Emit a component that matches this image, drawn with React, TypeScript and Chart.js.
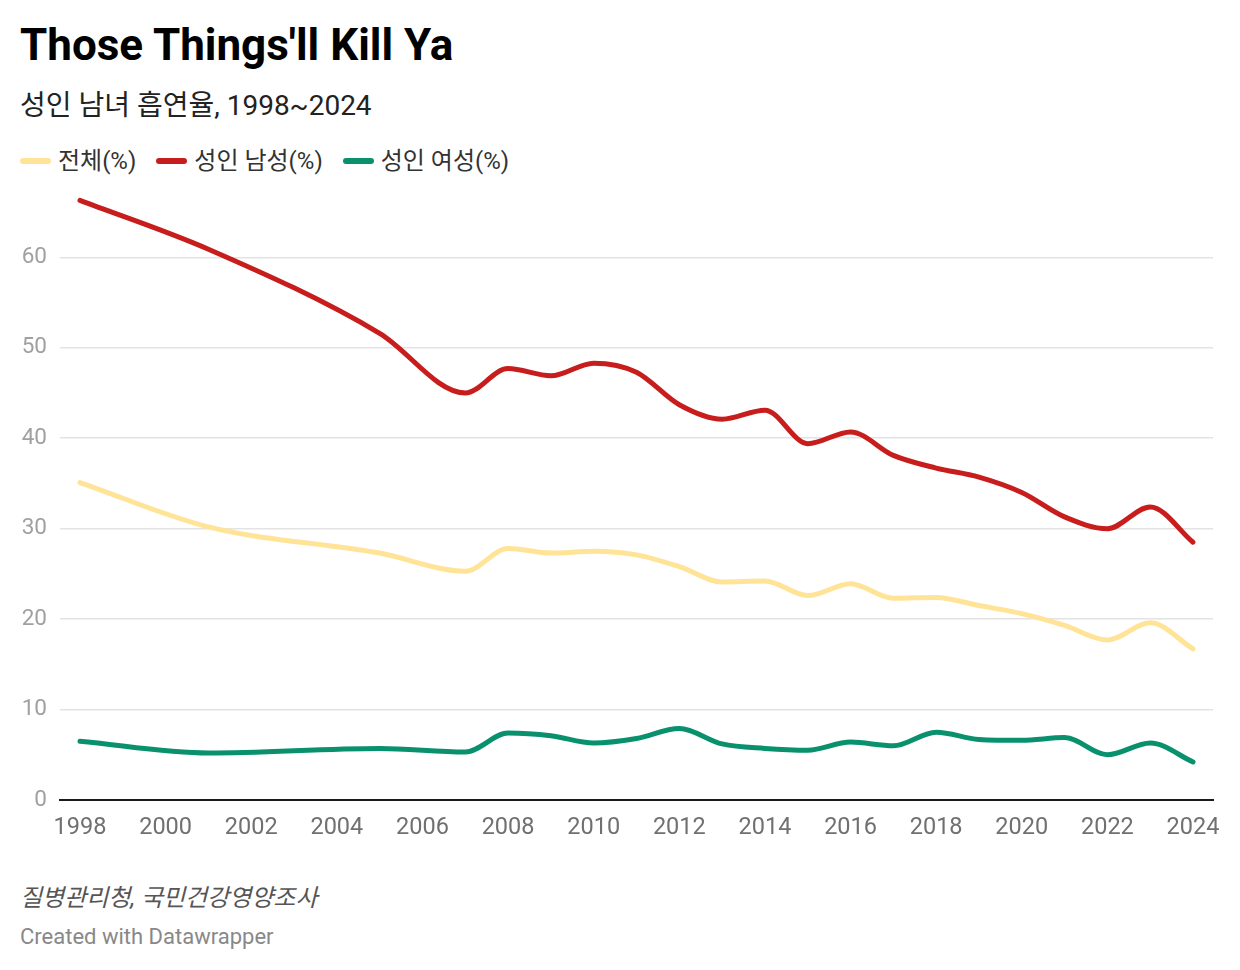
import React, { useEffect, useRef } from "react";
import { Chart, registerables } from "chart.js";

Chart.register(...registerables);

const years = [1998, 2001, 2005, 2007, 2008, 2009, 2010, 2011, 2012, 2013, 2014, 2015, 2016, 2017, 2018, 2019, 2020, 2021, 2022, 2023, 2024];
const totalRate = [35.1, 30.2, 27.3, 25.3, 27.8, 27.3, 27.5, 27.1, 25.8, 24.1, 24.2, 22.6, 23.9, 22.3, 22.4, 21.5, 20.6, 19.3, 17.7, 19.6, 16.7];
const maleRate = [66.3, 60.9, 51.6, 45.0, 47.7, 46.9, 48.3, 47.3, 43.7, 42.1, 43.1, 39.4, 40.7, 38.1, 36.7, 35.7, 34.0, 31.3, 30.0, 32.4, 28.5];
const femaleRate = [6.5, 5.2, 5.7, 5.3, 7.4, 7.1, 6.3, 6.8, 7.9, 6.2, 5.7, 5.5, 6.4, 6.0, 7.5, 6.7, 6.6, 6.9, 5.0, 6.3, 4.2];
const xTicks = [1998, 2000, 2002, 2004, 2006, 2008, 2010, 2012, 2014, 2016, 2018, 2020, 2022, 2024];
const yTicks = [0, 10, 20, 30, 40, 50, 60];

const seriesNames = ["전체(%)", "성인 남성(%)", "성인 여성(%)"];
const seriesColors = ["#ffe396", "#c71e1d", "#09916e"];

const FONT = "Roboto, 'Noto Sans CJK KR', sans-serif";

export default function App() {
  const ref = useRef<HTMLCanvasElement | null>(null);

  useEffect(() => {
    if (!ref.current) return;
    const mk = (vals: number[]) => years.map((y, i) => ({ x: y, y: vals[i] }));
    const all = [totalRate, maleRate, femaleRate];
    const chart = new Chart(ref.current, {
      type: "line",
      data: {
        datasets: all.map((vals, i) => ({
          label: seriesNames[i],
          data: mk(vals),
          borderColor: seriesColors[i],
          backgroundColor: seriesColors[i],
          borderWidth: 5,
          pointRadius: 0,
          pointHoverRadius: 0,
          cubicInterpolationMode: "monotone" as const,
          borderCapStyle: "round" as const,
          borderJoinStyle: "round" as const,
          fill: false,
        })),
      },
      options: {
        animation: false,
        responsive: false,
        maintainAspectRatio: false,
        layout: { padding: { top: 8, right: 27, left: 0, bottom: 0 } },
        plugins: { legend: { display: false }, tooltip: { enabled: false } },
        scales: {
          x: {
            type: "linear",
            min: 1998 - 0.467,
            max: 2024 + 0.467,
            afterBuildTicks: (s: any) => {
              s.ticks = xTicks.map((v) => ({ value: v }));
            },
            afterFit: (s: any) => {
              s.height = 46;
              s.paddingLeft = 0;
              s.paddingRight = 0;
            },
            grid: { display: false, drawTicks: false },
            border: { display: true, color: "#1a1a1a", width: 2 },
            ticks: {
              padding: 14,
              color: "#707070",
              font: { family: FONT, size: 23.5 },
              maxRotation: 0,
              autoSkip: false,
              callback: (v: any) => String(v),
            },
          },
          y: {
            type: "linear",
            min: 0,
            max: 67,
            afterBuildTicks: (s: any) => {
              s.ticks = yTicks.map((v) => ({ value: v }));
            },
            afterFit: (s: any) => {
              s.width = 60;
              s.paddingTop = 0;
              s.paddingBottom = 0;
            },
            grid: {
              drawTicks: false,
              color: (c: any) => (c.tick && c.tick.value === 0 ? "rgba(0,0,0,0)" : "#e3e3e3"),
              lineWidth: 1.5,
            },
            border: { display: false },
            ticks: {
              padding: 13,
              color: "#a0a0a0",
              font: { family: FONT, size: 22.5 },
              callback: (v: any) => String(v),
            },
          },
        },
      },
    });
    return () => chart.destroy();
  }, []);

  const legendItem = (i: number) => (
    <div key={i} style={{ display: "flex", alignItems: "center", marginRight: 20 }}>
      <div style={{ width: 31, height: 6, borderRadius: 3, background: seriesColors[i], marginRight: 7 }} />
      <span>{seriesNames[i]}</span>
    </div>
  );

  return (
    <div style={{ position: "absolute", left: 0, top: 0, width: 1240, height: 970, background: "#fff", fontFamily: FONT, overflow: "hidden" }}>
      <div style={{ position: "absolute", left: 20, top: 20, fontSize: 44, fontWeight: 700, color: "#000", lineHeight: "50px" }}>
        Those Things'll Kill Ya
      </div>
      <div style={{ position: "absolute", left: 20, top: 88, fontSize: 28, color: "#222", lineHeight: "36px" }}>
        성인 남녀 흡연율, 1998~2024
      </div>
      <div style={{ position: "absolute", left: 20, top: 145, fontSize: 24, color: "#333", lineHeight: "32px", display: "flex" }}>
        {seriesNames.map((_, i) => legendItem(i))}
      </div>
      <canvas ref={ref} width={1240} height={660} style={{ position: "absolute", left: 0, top: 186, width: 1240, height: 660 }} />
      <div style={{ position: "absolute", left: 20, top: 883, fontSize: 24, fontStyle: "italic", color: "#555", lineHeight: "30px" }}>
        질병관리청, 국민건강영양조사
      </div>
      <div style={{ position: "absolute", left: 20, top: 924, fontSize: 22, color: "#888", lineHeight: "26px" }}>
        Created with Datawrapper
      </div>
    </div>
  );
}
